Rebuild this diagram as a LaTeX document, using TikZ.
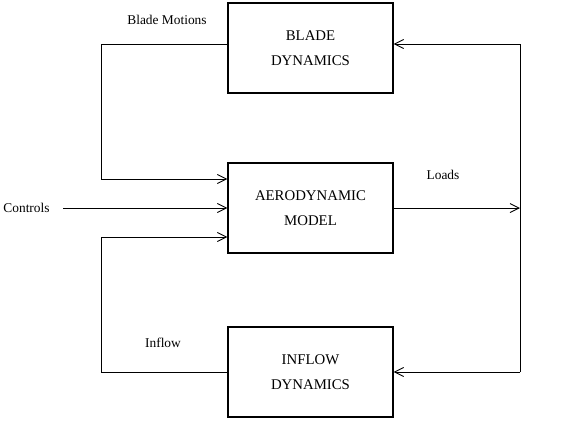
\documentclass[tikz,border=0pt]{standalone}
\usepackage{fontspec}
\setmainfont{Liberation Serif}
\usetikzlibrary{arrows.meta}
\begin{document}
\begin{tikzpicture}[x=1pt,y=-1pt,
  blk/.style={draw,line width=1.4pt,minimum width=165pt,minimum height=90pt,inner sep=0pt,align=center,font=\fontsize{14.8}{24.5}\selectfont},
  lbl/.style={font=\fontsize{13.4}{16}\selectfont,inner sep=0pt},
  conn/.style={line width=0.9pt},
  arr/.style={conn,-{Straight Barb[length=9pt,width=9pt,line width=0.9pt]}}]
\useasboundingbox (0,0) rectangle (564,424);
\node[blk] (blade) at (310.5,48) {BLADE\\DYNAMICS};
\node[blk] (aero) at (310.5,208) {AERODYNAMIC\\MODEL};
\node[blk] (inflow) at (310.5,372) {INFLOW\\DYNAMICS};
\node[lbl] (bm) at (167,20) {Blade Motions};
\node[lbl] (ctl) at (26.5,208) {Controls};
\node[lbl] (loads) at (443,175) {Loads};
\node[lbl] (inf) at (163,343) {Inflow};
\coordinate (ctlend) at (63,208);
\coordinate (lt) at (101,44);
\coordinate (lb) at (101,372);
\coordinate (rt) at (520,44);
\coordinate (rm) at (520,208);
\coordinate (rb) at (520,372);
\draw[arr] ([yshift=4pt]blade.west) -- (lt) |- ([yshift=29pt]aero.west);
\draw[arr] (ctlend) -- (aero.west);
\draw[arr] (inflow.west) -- (lb) |- ([yshift=-29pt]aero.west);
\draw[arr] (aero.east) -- (rm);
\draw[conn] (rt) -- (rb);
\draw[arr] (rt) -- ([yshift=4pt]blade.east);
\draw[arr] (rb) -- (inflow.east);
\end{tikzpicture}
\end{document}
